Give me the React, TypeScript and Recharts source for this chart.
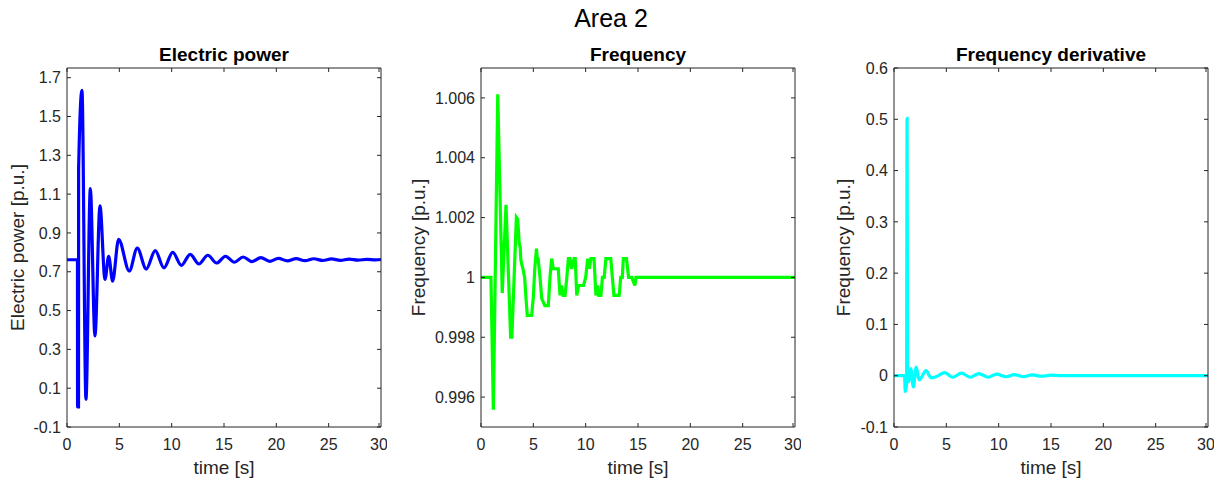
import { LineChart, Line, XAxis, YAxis } from 'recharts'

const timeTicks = [0, 5, 10, 15, 20, 25, 30]

const powerTime = [0, 1.0, 1.01, 1.1, 1.11, 1.43, 1.81, 2.23, 2.67, 3.15, 3.63, 3.98, 4.36, 4.93, 5.95, 6.71, 7.57, 8.43, 9.26, 10.1, 10.93, 11.77, 12.6, 13.45, 14.3, 15.14, 15.98, 16.83, 17.67, 18.52, 19.36, 20.2, 21.05, 21.9, 22.74, 23.58, 24.43, 25.27, 26.11, 26.96, 27.8, 28.64, 29.5, 30]
const powerValue = [0.762, 0.762, 0.003, 0.003, 1.23, 1.635, 0.043, 1.128, 0.369, 1.039, 0.661, 0.779, 0.652, 0.867, 0.704, 0.822, 0.714, 0.809, 0.72, 0.8, 0.733, 0.79, 0.74, 0.785, 0.745, 0.78, 0.749, 0.776, 0.752, 0.773, 0.754, 0.769, 0.756, 0.768, 0.757, 0.767, 0.758, 0.766, 0.759, 0.765, 0.76, 0.764, 0.761, 0.763]
const powerTicks = [-0.1, 0.1, 0.3, 0.5, 0.7, 0.9, 1.1, 1.3, 1.5, 1.7]

const freqTime = [0, 0.95, 1.18, 1.6, 2.03, 2.39, 2.83, 2.95, 3.38, 3.5, 3.62, 3.66, 3.75, 3.8, 3.92, 4.0, 4.17, 4.3, 4.42, 4.84, 5.0, 5.14, 5.3, 5.38, 5.45, 5.64, 5.8, 6.1, 6.43, 6.59, 6.75, 6.9, 7.38, 7.55, 7.7, 7.85, 8.03, 8.2, 8.35, 8.5, 8.65, 8.9, 9.0, 9.15, 9.33, 9.8, 10.0, 10.2, 10.35, 10.5, 10.8, 10.98, 11.15, 11.25, 11.46, 11.6, 11.77, 11.93, 12.4, 12.55, 12.7, 13.2, 13.35, 13.5, 13.6, 13.9, 14.1, 14.4, 14.7, 14.8, 30]
const freqValue = [1.0, 1.0, 0.99558, 1.00612, 0.99948, 1.00243, 0.998, 0.998, 1.00201, 1.00195, 1.00134, 1.0011, 1.001, 1.0006, 1.0004, 1.0003, 1.0, 0.9993, 0.99873, 0.99873, 0.99934, 1.0003, 1.00096, 1.0006, 1.00066, 1.0, 0.9993, 0.99906, 0.99906, 1.0, 1.00063, 1.00029, 1.00029, 0.9994, 0.99973, 0.9994, 0.9994, 1.0, 1.00063, 1.00063, 1.00029, 1.00063, 1.00063, 0.9994, 0.99973, 0.99973, 1.0, 1.00063, 1.00029, 1.00063, 1.00063, 0.9994, 0.99973, 0.9994, 0.9994, 1.0, 1.0, 1.00063, 1.00063, 1.0, 0.9994, 0.9994, 1.0, 1.0, 1.00063, 1.00063, 1.0, 1.0, 0.99973, 1.0, 1.0]
const freqTicks = [0.996, 0.998, 1, 1.002, 1.004, 1.006]

const rocofTime = [0, 1.0, 1.08, 1.2, 1.25, 1.3, 1.42, 1.6, 1.85, 2.12, 2.4, 2.6, 3.05, 3.55, 4.0, 4.85, 5.6, 6.45, 7.3, 8.1, 9.0, 9.8, 10.7, 11.5, 12.4, 13.2, 14.1, 15, 16, 30]
const rocofValue = [0, 0, -0.031, -0.015, 0.502, 0.005, -0.012, 0.014, -0.022, 0.017, -0.008, -0.004, 0.01, -0.004, -0.002, 0.006, -0.003, 0.005, -0.003, 0.004, -0.003, 0.003, -0.002, 0.002, -0.002, 0.0015, -0.001, 0.001, 0, 0]
const rocofTicks = [-0.1, 0, 0.1, 0.2, 0.3, 0.4, 0.5, 0.6]

const toRows = (time: number[], value: number[]) => time.map((t, i) => ({ t, v: value[i] }))

const AXIS = '#262626'
const FONT = '"Liberation Sans", Arial, Helvetica, sans-serif'
const PLOT_W = 314
const PLOT_TOP = 68
const PLOT_BOTTOM = 427
const TICK = 4

interface PanelProps {
  left: number
  axisWidth: number
  title: string
  yLabel: string
  labelOffset: number
  rows: { t: number; v: number }[]
  color: string
  curve: 'monotone' | 'linear'
  domain: [number, number]
  ticks: number[]
}

function Panel({ left, axisWidth, title, yLabel, labelOffset, rows, color, curve, domain, ticks }: PanelProps) {
  const width = axisWidth + PLOT_W + 1 + 5
  const plotLeft = axisWidth
  const plotRight = axisWidth + PLOT_W

  // inward tick marks on both sides of the box, matlab style
  const xTick = (props: any) => {
    const { x, payload } = props
    return (
      <g>
        <line x1={x} x2={x} y1={PLOT_BOTTOM} y2={PLOT_BOTTOM - TICK} stroke={AXIS} />
        <line x1={x} x2={x} y1={PLOT_TOP} y2={PLOT_TOP + TICK} stroke={AXIS} />
        <text x={x} y={450} textAnchor="middle" fill={AXIS} fontSize={16}>
          {String(payload.value)}
        </text>
      </g>
    )
  }

  const yTick = (props: any) => {
    const { y, payload } = props
    return (
      <g>
        <line x1={plotLeft} x2={plotLeft + TICK} y1={y} y2={y} stroke={AXIS} />
        <line x1={plotRight} x2={plotRight - TICK} y1={y} y2={y} stroke={AXIS} />
        <text x={plotLeft - 6} y={y + 5.7} textAnchor="end" fill={AXIS} fontSize={16}>
          {String(payload.value)}
        </text>
      </g>
    )
  }

  return (
    <div style={{ position: 'absolute', left, top: 0, width, height: 487 }}>
      <div
        style={{
          position: 'absolute',
          left: axisWidth,
          width: PLOT_W,
          top: 45,
          textAlign: 'center',
          fontWeight: 'bold',
          fontSize: 19,
          lineHeight: '19px',
          color: '#000',
          whiteSpace: 'nowrap',
        }}
      >
        {title}
      </div>
      <LineChart width={width} height={487} data={rows} margin={{ top: 67, right: 5, bottom: 0, left: 0 }}>
        <XAxis
          dataKey="t"
          type="number"
          domain={[0, 30]}
          ticks={timeTicks}
          height={60}
          stroke={AXIS}
          tickLine={false}
          tick={xTick}
          label={{ value: 'time [s]', position: 'insideBottom', offset: 13, style: { fontSize: 19, fill: AXIS } }}
        />
        <XAxis
          xAxisId="top"
          orientation="top"
          type="number"
          domain={[0, 30]}
          ticks={timeTicks}
          height={1}
          stroke={AXIS}
          tickLine={false}
          tick={false}
        />
        <YAxis
          type="number"
          domain={domain}
          ticks={ticks}
          width={axisWidth}
          stroke={AXIS}
          tickLine={false}
          tick={yTick}
          label={{
            value: yLabel,
            angle: -90,
            position: 'insideLeft',
            offset: labelOffset,
            style: { textAnchor: 'middle', fontSize: 19, fill: AXIS },
          }}
        />
        <YAxis
          yAxisId="right"
          orientation="right"
          type="number"
          domain={domain}
          ticks={ticks}
          width={1}
          stroke={AXIS}
          tickLine={false}
          tick={false}
        />
        <Line
          type={curve}
          dataKey="v"
          stroke={color}
          strokeWidth={3.2}
          dot={false}
          isAnimationActive={false}
        />
      </LineChart>
    </div>
  )
}

export default function App() {
  return (
    <div
      style={{
        position: 'absolute',
        left: 0,
        top: 0,
        width: 1222,
        height: 487,
        background: '#fff',
        fontFamily: FONT,
      }}
    >
      <div
        style={{
          position: 'absolute',
          left: 0,
          width: 1222,
          top: 6,
          textAlign: 'center',
          fontSize: 25,
          lineHeight: '25px',
          color: '#000',
        }}
      >
        Area 2
      </div>
      <Panel
        left={0}
        axisWidth={67}
        title="Electric power"
        yLabel="Electric power [p.u.]"
        labelOffset={17}
        rows={toRows(powerTime, powerValue)}
        color="#0000ff"
        curve="monotone"
        domain={[-0.1, 1.75]}
        ticks={powerTicks}
      />
      <Panel
        left={400}
        axisWidth={81}
        title="Frequency"
        yLabel="Frequency [p.u.]"
        labelOffset={18}
        rows={toRows(freqTime, freqValue)}
        color="#00ff00"
        curve="linear"
        domain={[0.995, 1.007]}
        ticks={freqTicks}
      />
      <Panel
        left={810}
        axisWidth={84}
        title="Frequency derivative"
        yLabel="Frequency [p.u.]"
        labelOffset={33}
        rows={toRows(rocofTime, rocofValue)}
        color="#00ffff"
        curve="monotone"
        domain={[-0.1, 0.6]}
        ticks={rocofTicks}
      />
    </div>
  )
}
